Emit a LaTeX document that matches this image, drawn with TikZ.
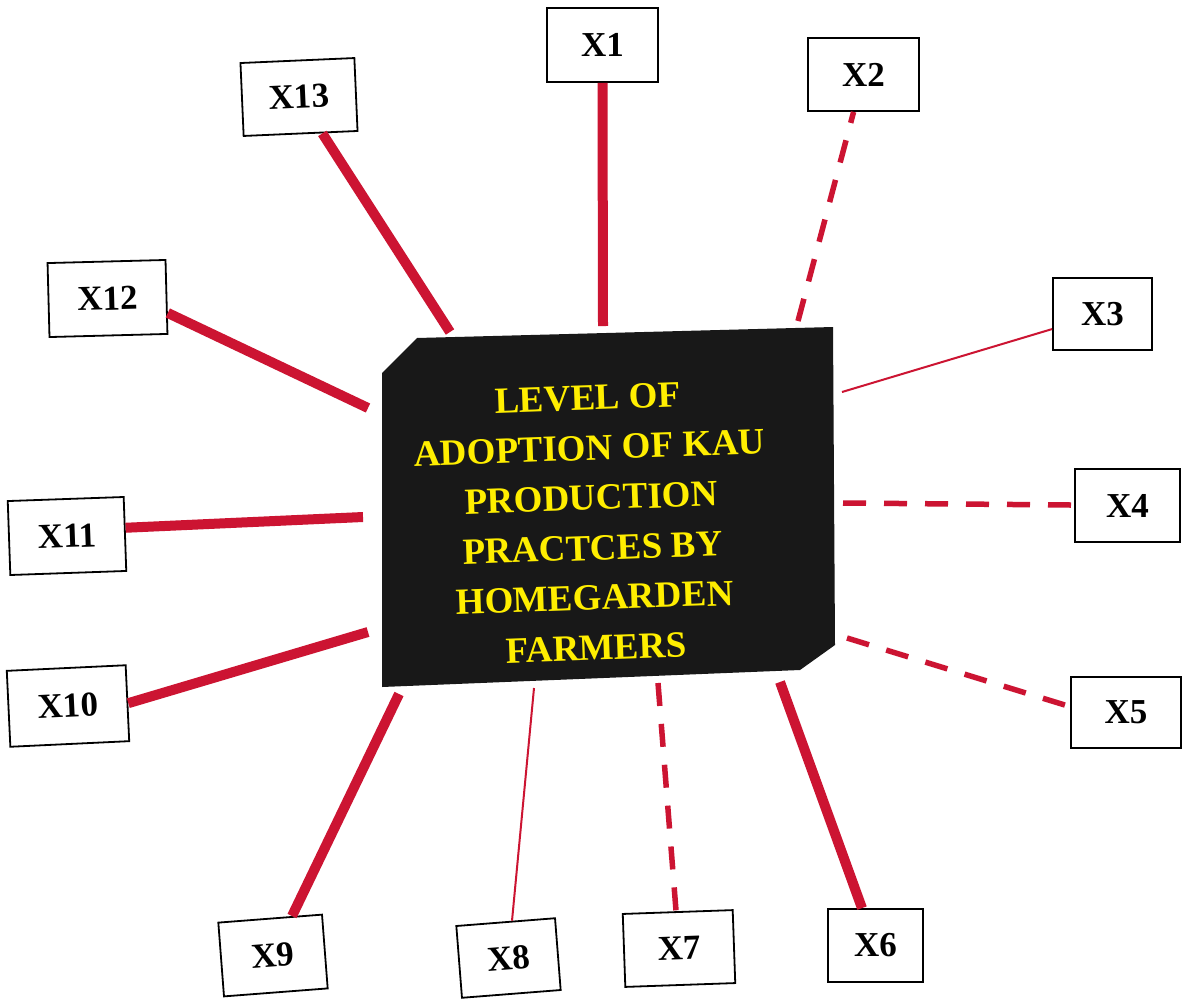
\documentclass[tikz,border=0pt]{standalone}
\usepackage{fontspec}
\setmainfont{Liberation Serif}
\definecolor{linkred}{RGB}{204,20,50}
\definecolor{txtyellow}{RGB}{255,238,0}
\definecolor{boardblack}{RGB}{24,24,24}
\begin{document}
\begin{tikzpicture}[x=1pt,y=-1pt,
  varbox/.style={draw=black, line width=1.8pt, fill=white, inner sep=0pt,
    font=\bfseries\fontsize{35}{40}\selectfont},
  thicklink/.style={draw=linkred, line width=10pt},
  dashlink/.style={draw=linkred, line width=5.5pt, dash pattern=on 23pt off 18pt},
  thinlink/.style={draw=linkred, line width=2pt},
  titletext/.style={text=txtyellow, align=center,
    font=\bfseries\fontsize{37}{50}\selectfont}]
\useasboundingbox (0,0) rectangle (1183,999);
\fill[white] (0,0) rectangle (1183,999);

% central board
\fill[boardblack] (417,338) -- (833,327) -- (835,645) -- (800,670) -- (382,687) -- (382,373) -- cycle;
\node[titletext, rotate=2] (title) at (592,523)
  {LEVEL OF\\ADOPTION OF KAU\\PRODUCTION\\PRACTCES BY\\HOMEGARDEN\\FARMERS};

% connector ends at the board
\coordinate (c1) at (603,326);
\coordinate (c2) at (798,321);
\coordinate (c3) at (842,392);
\coordinate (c4) at (843,503);
\coordinate (c5) at (847,638);
\coordinate (c6) at (780,682);
\coordinate (c7) at (658,683);
\coordinate (c8) at (534,688);
\coordinate (c9) at (399,694);
\coordinate (c10) at (368,632);
\coordinate (c11) at (363,517);
\coordinate (c12) at (368,408);
\coordinate (c13) at (450,332);

% variable boxes
\node[varbox, minimum width=111pt, minimum height=74pt] (X1) at (602.5,45) {X1};
\node[varbox, minimum width=111pt, minimum height=73pt] (X2) at (863.5,74.5) {X2};
\node[varbox, minimum width=99pt, minimum height=72pt] (X3) at (1102.5,314) {X3};
\node[varbox, minimum width=105pt, minimum height=73pt] (X4) at (1127.5,505.5) {X4};
\node[varbox, minimum width=110pt, minimum height=71pt] (X5) at (1126,712.5) {X5};
\node[varbox, minimum width=95pt, minimum height=73pt] (X6) at (875.5,945.5) {X6};
\node[varbox, minimum width=110pt, minimum height=73pt, rotate=2] (X7) at (679,948.5) {X7};
\node[varbox, minimum width=99pt, minimum height=72pt, rotate=4.5] (X8) at (508.5,958) {X8};
\node[varbox, minimum width=104pt, minimum height=74pt, rotate=4.4] (X9) at (273,955.5) {X9};
\node[varbox, minimum width=119pt, minimum height=76pt, rotate=2.7] (X10) at (68,706) {X10};
\node[varbox, minimum width=116pt, minimum height=74pt, rotate=2] (X11) at (67,536) {X11};
\node[varbox, minimum width=118pt, minimum height=74pt, rotate=1.5] (X12) at (107.5,298.5) {X12};
\node[varbox, minimum width=114pt, minimum height=73pt, rotate=2.5] (X13) at (299,97) {X13};

% connectors
\draw[thicklink] (c1) -- (X1.south);
\draw[dashlink] (c2) -- (X2);
\draw[thinlink] (c3) -- (X3);
\draw[dashlink] (c4) -- (X4);
\draw[dashlink] (c5) -- (X5.174);
\draw[thicklink] (c6) -- (X6);
\draw[dashlink] (c7) -- (X7);
\draw[thinlink] (c8) -- (X8);
\draw[thicklink] (c9) -- (X9);
\draw[thicklink] (c10) -- (X10.east);
\draw[thicklink] (c11) -- (X11.6);
\draw[thicklink] (c12) -- (X12.345);
\draw[thicklink] (c13) -- (X13);
\end{tikzpicture}
\end{document}
